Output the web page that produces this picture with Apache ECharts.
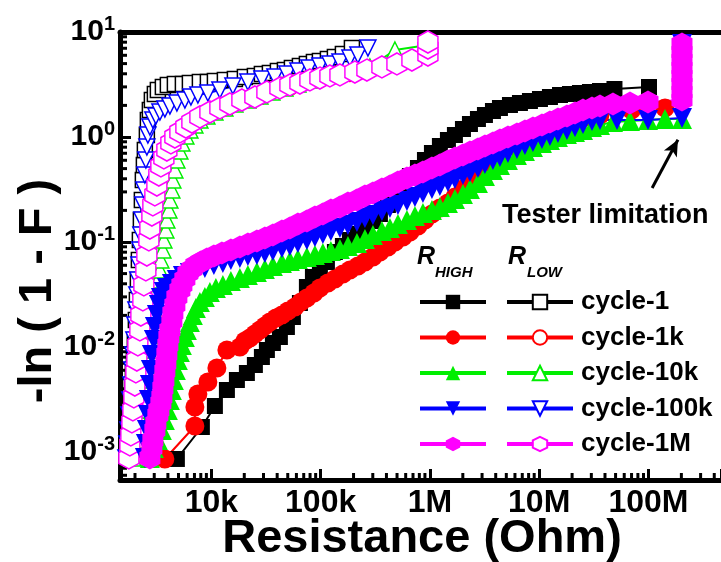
<!DOCTYPE html>
<html>
<head>
<meta charset="utf-8">
<script src="https://cdn.jsdelivr.net/npm/echarts@6.0.0/dist/echarts.min.js"></script>
<style>
  html, body { margin: 0; padding: 0; background: #fff; }
  #chart { width: 721px; height: 562px; }
</style>
</head>
<body>
<div id="chart"></div>
<script>
// axis ranges (Resistance in Ohm, y = -ln(1-F))
const xMin = 1458, xMax = 4.61e8;
const yMin = 5.41e-4, yMax = 10;

const xTickValues = [1e4, 1e5, 1e6, 1e7, 1e8];
const xTickLabels = ['10k', '100k', '1M', '10M', '100M'];
const yTickValues = [1e-3, 1e-2, 1e-1, 1, 10];
const yTickLabels = ['-3', '-2', '-1', '0', '1'];

const minorXTicks = [2e3, 3e3, 4e3, 5e3, 6e3, 7e3, 8e3, 9e3,
  2e4, 3e4, 4e4, 5e4, 6e4, 7e4, 8e4, 9e4,
  2e5, 3e5, 4e5, 5e5, 6e5, 7e5, 8e5, 9e5,
  2e6, 3e6, 4e6, 5e6, 6e6, 7e6, 8e6, 9e6,
  2e7, 3e7, 4e7, 5e7, 6e7, 7e7, 8e7, 9e7,
  2e8, 3e8, 4e8];
const minorYTicks = [6e-4, 7e-4, 8e-4, 9e-4,
  2e-3, 3e-3, 4e-3, 5e-3, 6e-3, 7e-3, 8e-3, 9e-3,
  2e-2, 3e-2, 4e-2, 5e-2, 6e-2, 7e-2, 8e-2, 9e-2,
  0.2, 0.3, 0.4, 0.5, 0.6, 0.7, 0.8, 0.9,
  2, 3, 4, 5, 6, 7, 8, 9];

const cycles = ['cycle-1', 'cycle-1k', 'cycle-10k', 'cycle-100k', 'cycle-1M'];

// R_HIGH  [resistance, -ln(1-F)]
const highC1 = [[4833, 8.58e-4], [8185, 1.73e-3], [10770, 2.742e-3], [13870, 3.896e-3], [17120, 4.85e-3],
  [21130, 5.654e-3], [25010, 6.74e-3], [28990, 8.031e-3], [32210, 9.363e-3], [36550, 0.01092], [42360, 0.01245],
  [49110, 0.01551], [55720, 0.01931], [64590, 0.02624], [74830, 0.03727], [84960, 0.04642], [98420, 0.05412],
  [114100, 0.06449], [134990, 0.08031], [159800, 0.09161], [185200, 0.1045], [219300, 0.1192], [254100, 0.1359],
  [300800, 0.1585], [348600, 0.1848], [412600, 0.2251], [478200, 0.2742], [566100, 0.3415], [656100, 0.425],
  [776800, 0.5067], [900300, 0.6039], [1.043e6, 0.7041], [1.234e6, 0.821], [1.461e6, 0.9364], [1.693e6, 1.045],
  [2.005e6, 1.192], [2.324e6, 1.33], [2.75e6, 1.484], [3.187e6, 1.62], [3.773e6, 1.769], [4.373e6, 1.889],
  [5.399e6, 2.017], [6.664e6, 2.108], [8.228e6, 2.203], [1.016e7, 2.301], [1.254e7, 2.404], [1.549e7, 2.512],
  [1.912e7, 2.568], [2.36e7, 2.624], [2.914e7, 2.683], [3.599e7, 2.742], [4.884e7, 2.865], [1.011e8, 2.993]];
const highC1k = [[3752, 8.58e-4], [7063, 1.769e-3], [7063, 2.683e-3], [7522, 3.567e-3], [9290, 4.642e-3],
  [11230, 6.31e-3], [13870, 9.363e-3], [18236, 0.01], [20260, 0.01141], [22510, 0.01218], [25010, 0.0133],
  [27800, 0.01452], [30890, 0.01585], [34310, 0.0173], [38950, 0.01889], [44200, 0.02017], [50150, 0.02203],
  [58120, 0.02404], [65950, 0.02683], [74830, 0.02929], [86770, 0.03268], [98420, 0.03646], [116500, 0.04069],
  [134990, 0.04443], [159800, 0.04958], [185200, 0.05412], [219300, 0.05906], [254100, 0.06449],
  [300800, 0.07197], [348600, 0.08031], [412600, 0.0896], [478200, 0.1], [566100, 0.1116], [656100, 0.1245],
  [776800, 0.142], [900300, 0.162], [1.043e6, 0.1848], [1.234e6, 0.2108], [1.461e6, 0.2351], [1.693e6, 0.2683],
  [2.005e6, 0.3197], [2.324e6, 0.3896], [2.75e6, 0.4642], [3.324e6, 0.578], [4.373e6, 0.7197], [5.399e6, 0.821],
  [6.664e6, 0.9364], [8.228e6, 1.022], [1.016e7, 1.116], [1.254e7, 1.192], [1.549e7, 1.273], [1.912e7, 1.359],
  [2.36e7, 1.452], [2.914e7, 1.551], [3.599e7, 1.62], [6.99e7, 1.807], [1.416e8, 1.889]];
const highC10k = [[2736, 8.77e-4], [2977, 1.092e-3], [3238, 1.301e-3], [3523, 1.62e-3], [3752, 2.017e-3],
  [3997, 2.512e-3], [4170, 3.128e-3], [4349, 3.896e-3], [4537, 4.85e-3], [4732, 6.039e-3], [4937, 7.518e-3],
  [5148, 8.96e-3], [5370, 0.01045], [5720, 0.01245], [5967, 0.01452], [6357, 0.0173], [6772, 0.02017],
  [7213, 0.02351], [7848, 0.02683], [8720, 0.02993], [9689, 0.03341], [10995, 0.03646], [12740, 0.03895],
  [15088, 0.0425], [18236, 0.0454], [21586, 0.0485], [26096, 0.05179], [30890, 0.05533], [36550, 0.05906],
  [44200, 0.0631], [52300, 0.06592], [61920, 0.06887], [74830, 0.07197], [88600, 0.07518], [104860, 0.07855],
  [124100, 0.0821], [150100, 0.08577], [177600, 0.09161], [214700, 0.09783], [254100, 0.1068], [300800, 0.1166],
  [363600, 0.1273], [430400, 0.1359], [509400, 0.1484], [615900, 0.162], [729000, 0.1769], [862900, 0.1889],
  [1.043e6, 0.2017], [1.234e6, 0.2154], [1.461e6, 0.2351], [1.693e6, 0.2567], [2.005e6, 0.2865],
  [2.324e6, 0.3197], [2.75e6, 0.3646], [3.187e6, 0.425], [3.773e6, 0.485], [4.373e6, 0.5412], [5.176e6, 0.6039],
  [6.258e6, 0.674], [7.404e6, 0.7356], [8.767e6, 0.8031], [1.06e7, 0.8768], [1.254e7, 0.9364], [1.485e7, 1.0],
  [1.795e7, 1.068], [2.125e7, 1.116], [2.515e7, 1.166], [3.041e7, 1.245], [3.599e7, 1.301], [4.733e7, 1.389],
  [6.773e7, 1.42], [9.895e7, 1.452], [1.416e8, 1.484], [2.026e8, 1.484]];
const highC100k = [[2462, 8.77e-4], [2514, 1.192e-3], [2568, 1.62e-3], [2623, 2.251e-3], [2679, 3.128e-3],
  [2736, 4.345e-3], [2795, 6.039e-3], [2854, 8.391e-3], [2977, 0.01166], [3040, 0.01551], [3171, 0.02017],
  [3307, 0.02512], [3450, 0.02929], [3675, 0.03341], [3914, 0.03646], [4349, 0.03981], [4833, 0.04345],
  [5485, 0.04745], [6357, 0.05069], [7368, 0.05412], [8720, 0.05654], [10540, 0.06039], [12740, 0.0631],
  [15088, 0.0674], [18236, 0.07041], [21586, 0.07356], [26096, 0.07518], [30890, 0.07855], [36550, 0.0821],
  [44200, 0.08768], [52300, 0.09161], [61920, 0.09783], [74830, 0.1045], [88600, 0.1116], [104860, 0.1192],
  [124100, 0.1273], [150100, 0.1359], [177600, 0.1452], [214700, 0.1551], [254100, 0.1693], [300800, 0.1807],
  [363600, 0.1973], [430400, 0.2108], [509400, 0.2251], [615900, 0.2458], [729000, 0.2683], [862900, 0.2929],
  [1.043e6, 0.3197], [1.234e6, 0.3415], [1.461e6, 0.3727], [1.693e6, 0.3981], [2.005e6, 0.4346],
  [2.324e6, 0.4642], [2.75e6, 0.5067], [3.187e6, 0.5533], [3.773e6, 0.6039], [4.373e6, 0.6449], [5.176e6, 0.7041],
  [6.258e6, 0.7689], [7.404e6, 0.8391], [8.767e6, 0.896], [1.06e7, 0.9572], [1.254e7, 1.022], [1.485e7, 1.092],
  [1.795e7, 1.166], [2.125e7, 1.245], [2.515e7, 1.33], [3.041e7, 1.42], [3.599e7, 1.452], [5.149e7, 1.452],
  [9.895e7, 1.452], [2.026e8, 1.517], [2.026e8, 2.251], [2.026e8, 3.198], [2.026e8, 4.542], [2.026e8, 6.45],
  [2.026e8, 7.686]];
const highC1M = [[2736, 8.77e-4], [2854, 1.092e-3], [2914, 1.301e-3], [3040, 1.62e-3], [3105, 1.889e-3],
  [3238, 2.251e-3], [3307, 2.512e-3], [3450, 2.929e-3], [3523, 3.341e-3], [3598, 4.069e-3], [3675, 4.85e-3],
  [3752, 5.906e-3], [3832, 7.041e-3], [3914, 8.577e-3], [3997, 0.01045], [4083, 0.01245], [4170, 0.01452],
  [4349, 0.01769], [4442, 0.02108], [4634, 0.02512], [4833, 0.02993], [5148, 0.0349], [5370, 0.03895],
  [5720, 0.04443], [6095, 0.05069], [6630, 0.05533], [7213, 0.06039], [8014, 0.06449], [9095, 0.06887],
  [10540, 0.07356], [12480, 0.07855], [15088, 0.08389], [18236, 0.0896], [21586, 0.09572], [26096, 0.1022],
  [30890, 0.1092], [36550, 0.1166], [44200, 0.1273], [52300, 0.1359], [61920, 0.1484], [74830, 0.1585],
  [88600, 0.173], [104860, 0.1848], [124100, 0.2017], [150100, 0.2154], [177600, 0.2351], [214700, 0.2512],
  [254100, 0.2742], [300800, 0.2929], [363600, 0.3197], [430400, 0.3415], [509400, 0.3727], [615900, 0.4069],
  [729000, 0.4346], [862900, 0.4642], [1.043e6, 0.5067], [1.234e6, 0.5412], [1.461e6, 0.5908], [1.693e6, 0.631],
  [2.005e6, 0.674], [2.324e6, 0.7197], [2.75e6, 0.7689], [3.187e6, 0.821], [3.773e6, 0.8768], [4.373e6, 0.9364],
  [5.176e6, 1.0], [6.258e6, 1.068], [7.404e6, 1.141], [8.767e6, 1.218], [1.06e7, 1.301], [1.254e7, 1.389],
  [1.485e7, 1.484], [1.795e7, 1.585], [2.125e7, 1.693], [2.515e7, 1.807], [3.041e7, 1.889], [3.599e7, 1.973],
  [4.733e7, 2.062], [6.773e7, 2.108], [9.895e7, 2.154], [2.026e8, 2.251], [2.026e8, 2.683], [2.026e8, 3.198],
  [2.026e8, 3.811], [2.026e8, 4.542], [2.026e8, 5.412], [2.026e8, 6.45], [2.026e8, 7.686]];

// R_LOW
const lowC1 = [[1685, 9.36e-4], [1721, 1.301e-3], [1758, 1.62e-3], [1795, 2.251e-3], [1833, 3.128e-3],
  [1873, 4.345e-3], [1912, 6.039e-3], [1953, 8.391e-3], [1994, 0.01166], [2037, 0.01807], [2080, 0.02803],
  [2124, 0.04345], [2170, 0.0674], [2216, 0.1045], [2263, 0.162], [2311, 0.2512], [2360, 0.3896],
  [2411, 0.5412], [2462, 0.7518], [2568, 1.045], [2623, 1.452], [2736, 1.807], [2854, 2.251], [3040, 2.568],
  [3238, 2.803], [3598, 2.993], [3997, 3.128], [4634, 3.198], [5485, 3.198], [6357, 3.268], [7848, 3.341],
  [9290, 3.341], [10770, 3.415], [13290, 3.491], [16410, 3.567], [20260, 3.727], [25010, 3.811], [28990, 3.981],
  [34310, 4.069], [40620, 4.254], [47090, 4.345], [54560, 4.542], [64590, 4.745], [74830, 4.958], [86770, 5.179],
  [98420, 5.295], [116500, 5.533], [134990, 5.779], [159800, 6.172], [193200, 7.041]];
const lowC1k = [[1834, 0.00088], [1953, 0.00162], [2080, 0.00313], [2215, 0.00604], [2360, 0.0117],
  [2513, 0.0225], [2680, 0.0435], [2853, 0.0839], [3040, 0.145], [3237, 0.251], [3524, 0.407],
  [3917, 0.631], [4634, 0.936], [6100, 1.27], [8720, 1.585], [14770, 1.97], [27800, 2.4], [52300, 2.93],
  [98500, 3.49], [185200, 3.98], [348600, 4.54], [684000, 5.65]];
const lowC10k = [[1912, 8.77e-4], [1994, 1.068e-3], [2080, 1.301e-3], [2170, 1.62e-3], [2263, 2.017e-3],
  [2360, 2.512e-3], [2462, 3.128e-3], [2568, 3.896e-3], [2623, 4.85e-3], [2679, 6.039e-3], [2736, 7.518e-3],
  [2795, 9.363e-3], [2854, 0.01166], [2914, 0.01452], [2977, 0.01807], [3040, 0.02251], [3105, 0.02803],
  [3171, 0.0349], [3238, 0.04345], [3378, 0.05412], [3450, 0.0674], [3598, 0.08389], [3675, 0.1045],
  [3832, 0.1301], [3914, 0.162], [4083, 0.2017], [4170, 0.2512], [4349, 0.3128], [4442, 0.3896], [4634, 0.485],
  [4833, 0.6039], [5148, 0.7356], [5370, 0.8768], [5843, 1.022], [6357, 1.166], [7063, 1.301], [7848, 1.452],
  [9095, 1.585], [10770, 1.73], [13290, 1.889], [16410, 2.062], [21586, 2.251], [27800, 2.458], [35790, 2.683],
  [47090, 2.929], [61920, 3.198], [79720, 3.491], [109400, 3.811], [150100, 4.069], [205800, 4.345],
  [282300, 4.642], [478200, 6.74], [958800, 7.518]];
const lowC100k = [[1650, 8.77e-4], [1685, 1.192e-3], [1721, 1.62e-3], [1758, 2.251e-3], [1795, 3.128e-3],
  [1833, 4.345e-3], [1873, 6.039e-3], [1912, 8.391e-3], [1953, 0.01166], [1994, 0.0162], [2037, 0.02251],
  [2080, 0.03128], [2124, 0.04345], [2170, 0.06039], [2216, 0.08389], [2263, 0.1166], [2311, 0.162],
  [2360, 0.2251], [2411, 0.3128], [2462, 0.4346], [2514, 0.6039], [2568, 0.8031], [2623, 1.045], [2736, 1.245],
  [2914, 1.452], [3105, 1.585], [3378, 1.73], [3752, 1.848], [4170, 1.973], [4833, 2.108], [5720, 2.251],
  [6494, 2.404], [7522, 2.512], [9290, 2.624], [11960, 2.803], [15730, 3.06], [21586, 3.341], [28990, 3.567],
  [38130, 3.727], [49110, 3.981], [61920, 4.254], [78050, 4.542], [98420, 4.745], [121500, 4.958],
  [150100, 5.179], [185200, 5.654], [219300, 6.039], [270700, 7.041]];
const lowC1M = [[1758, 8.77e-4], [1795, 1.166e-3], [1833, 1.452e-3], [1873, 1.931e-3], [1912, 2.512e-3],
  [1953, 3.341e-3], [1994, 4.345e-3], [2037, 5.779e-3], [2080, 7.518e-3], [2124, 0.01045], [2216, 0.01452],
  [2263, 0.02017], [2360, 0.02803], [2411, 0.03895], [2514, 0.05412], [2568, 0.07518], [2679, 0.1045],
  [2736, 0.1359], [2854, 0.1807], [2914, 0.2251], [3040, 0.2803], [3171, 0.349], [3307, 0.4346], [3450, 0.5295],
  [3675, 0.631], [3914, 0.7518], [4259, 0.8768], [4634, 1.0], [5148, 1.116], [5843, 1.245], [6630, 1.389],
  [7848, 1.551], [9689, 1.73], [11960, 1.889], [14770, 2.062], [19020, 2.251], [25010, 2.404], [32210, 2.683],
  [42360, 2.929], [52300, 3.128], [64590, 3.268], [79720, 3.491], [98420, 3.646], [121500, 3.811],
  [150100, 3.896], [205800, 4.159], [265000, 4.345], [363600, 4.642], [498900, 4.958], [684200, 5.412],
  [958800, 6.039], [958800, 7.041], [958800, 8.031]];

// arrow pointing at the tester limit
const arrowFrom = [1.08e8, 0.327];
const arrowTo = [1.86e8, 0.94];

const FONT = '"Liberation Sans", Arial, sans-serif';
const hexagon = 'path://M0,-10L8.66,-5L8.66,5L0,10L-8.66,5L-8.66,-5Z';
const colors = ['#000000', '#ff0000', '#00ee00', '#0000ff', '#ff00ff'];
const markers = ['rect', 'circle', 'triangle', 'triangle', hexagon];
const highSizes = [16, 19, 20, 20, [21, 23]];
const lowSizes = [15, 15, 16, 16, [20, 22]];
const rotations = [0, 0, 0, 180, 0];
const highData = [highC1, highC1k, highC10k, highC100k, highC1M];
const lowData = [lowC1, lowC1k, lowC10k, lowC100k, lowC1M];

function lineSeries(name, data, i, open) {
  const c = colors[i];
  return {
    name: name,
    type: 'line',
    data: data,
    symbol: markers[i],
    symbolSize: open ? lowSizes[i] : highSizes[i],
    symbolRotate: rotations[i],
    showAllSymbol: true,
    silent: true,
    lineStyle: { color: c, width: 2 },
    itemStyle: open
      ? { color: '#fff', borderColor: c, borderWidth: 1.5 }
      : { color: c, borderWidth: 0 },
    emphasis: { disabled: true }
  };
}

const highNames = cycles.map(c => c + ' (R_HIGH)');
const series = [];
cycles.forEach((c, i) => series.push(lineSeries(c, lowData[i], i, true)));
cycles.forEach((c, i) => series.push(lineSeries(highNames[i], highData[i], i, false)));

series[series.length - 1].markLine = {
  silent: true,
  symbol: ['none', 'arrow'],
  symbolSize: [11, 16],
  label: { show: false },
  lineStyle: { color: '#000', width: 3, type: 'solid' },
  data: [[{ coord: arrowFrom }, { coord: arrowTo }]]
};

// minor ticks at 2..9 of each decade, placed through the axes' own scales
series.push({
  type: 'custom',
  silent: true,
  data: minorXTicks.map(v => [v, yMin]),
  renderItem: (params, api) => {
    const p = api.coord([api.value(0), api.value(1)]);
    return { type: 'line', shape: { x1: p[0], y1: p[1], x2: p[0], y2: p[1] - 7 },
      style: { stroke: '#000', lineWidth: 3 } };
  }
});
series.push({
  type: 'custom',
  silent: true,
  data: minorYTicks.map(v => [xMin, v]),
  renderItem: (params, api) => {
    const p = api.coord([api.value(0), api.value(1)]);
    return { type: 'line', shape: { x1: p[0], y1: p[1], x2: p[0] + 7, y2: p[1] },
      style: { stroke: '#000', lineWidth: 3 } };
  }
});

function findLabel(values, labels, v) {
  for (let i = 0; i < values.length; i++) {
    if (Math.abs(v / values[i] - 1) < 1e-6) return labels[i];
  }
  return null;
}

const chart = echarts.init(document.getElementById('chart'), null, { renderer: 'canvas' });

const legendText = { fontSize: 26, fontWeight: 'bold', fontFamily: FONT, color: '#000' };

const option = {
  animation: false,
  backgroundColor: '#fff',
  grid: { left: 120, right: 0, top: 32, bottom: 82, outerBoundsMode: 'none' },
  xAxis: [{
    type: 'log',
    min: xMin,
    max: xMax,
    axisLine: { lineStyle: { color: '#000', width: 5 } },
    axisTick: { inside: true, length: 11, lineStyle: { width: 3, color: '#000' } },
    splitLine: { show: false },
    axisLabel: {
      margin: 7,
      fontSize: 32, fontWeight: 'bold', fontFamily: FONT, color: '#000',
      formatter: v => findLabel(xTickValues, xTickLabels, v) || ''
    }
  }, {
    type: 'log',
    position: 'top',
    min: xMin,
    max: xMax,
    axisLine: { lineStyle: { color: '#000', width: 5 } },
    axisTick: { show: false },
    axisLabel: { show: false },
    splitLine: { show: false }
  }],
  yAxis: {
    type: 'log',
    min: yMin,
    max: yMax,
    axisLine: { lineStyle: { color: '#000', width: 5 } },
    axisTick: { inside: true, length: 11, lineStyle: { width: 3, color: '#000' } },
    splitLine: { show: false },
    axisLabel: {
      margin: 5,
      formatter: v => {
        const e = findLabel(yTickValues, yTickLabels, v);
        return e === null ? '' : '{b|10}{s|' + e + '}';
      },
      rich: {
        b: { fontSize: 30, fontWeight: 'bold', fontFamily: FONT, color: '#000', lineHeight: 35 },
        s: { fontSize: 20, fontWeight: 'bold', fontFamily: FONT, color: '#000', verticalAlign: 'top', lineHeight: 20 }
      }
    }
  },
  legend: [{
    data: highNames,
    orient: 'vertical',
    left: 413,
    top: 284,
    itemWidth: 66,
    itemHeight: 18,
    itemGap: 9.5,
    selectedMode: false,
    lineStyle: { width: 4 },
    formatter: () => ' ',
    textStyle: legendText
  }, {
    data: cycles,
    orient: 'vertical',
    left: 500,
    top: 284,
    itemWidth: 66,
    itemHeight: 18,
    itemGap: 9.5,
    selectedMode: false,
    lineStyle: { width: 4 },
    textStyle: Object.assign({ padding: [0, 0, 0, 3] }, legendText)
  }],
  graphic: [
    { type: 'text', x: 38, y: 291, rotation: Math.PI / 2, silent: true,
      style: { text: '-ln ( 1 - F )', fontSize: 47, fontWeight: 'bold', fontFamily: FONT, fill: '#000',
        align: 'center', verticalAlign: 'middle' } },
    { type: 'text', x: 422, y: 539, silent: true,
      style: { text: 'Resistance (Ohm)', fontSize: 47, fontWeight: 'bold', fontFamily: FONT, fill: '#000',
        align: 'center', verticalAlign: 'middle' } },
    { type: 'text', left: 502, top: 202, silent: true,
      style: { text: 'Tester limitation', fontSize: 27, fontWeight: 'bold', fontFamily: FONT, fill: '#000' } },
    { type: 'text', left: 417, top: 245, silent: true,
      style: { text: 'R', fontSize: 25, fontWeight: 'bold', fontStyle: 'italic', fontFamily: FONT, fill: '#000' } },
    { type: 'text', left: 435, top: 265, silent: true,
      style: { text: 'HIGH', fontSize: 15, fontWeight: 'bold', fontStyle: 'italic', fontFamily: FONT, fill: '#000' } },
    { type: 'text', left: 508, top: 245, silent: true,
      style: { text: 'R', fontSize: 25, fontWeight: 'bold', fontStyle: 'italic', fontFamily: FONT, fill: '#000' } },
    { type: 'text', left: 527, top: 265, silent: true,
      style: { text: 'LOW', fontSize: 15, fontWeight: 'bold', fontStyle: 'italic', fontFamily: FONT, fill: '#000' } }
  ],
  series: series
};

chart.setOption(option);
</script>
</body>
</html>
